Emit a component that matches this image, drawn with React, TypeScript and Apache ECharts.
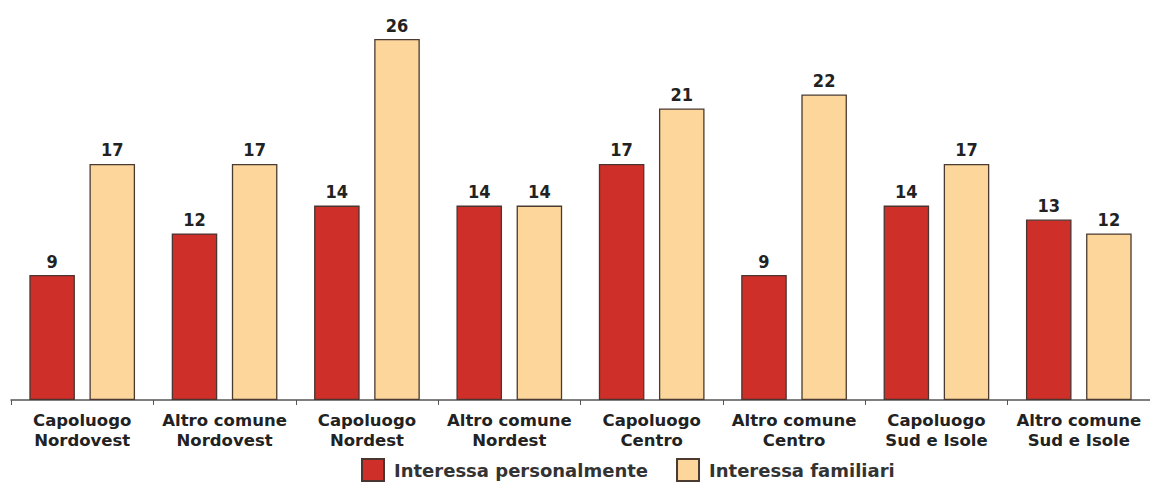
import React, { useEffect, useRef } from "react";
import * as echarts from "echarts";

const categories = [
  "Capoluogo\nNordovest",
  "Altro comune\nNordovest",
  "Capoluogo\nNordest",
  "Altro comune\nNordest",
  "Capoluogo\nCentro",
  "Altro comune\nCentro",
  "Capoluogo\nSud e Isole",
  "Altro comune\nSud e Isole",
];
const personale = [9, 12, 14, 14, 17, 9, 14, 13];
const familiari = [17, 17, 26, 14, 21, 22, 17, 12];
const seriesNames = ["Interessa personalmente", "Interessa familiari"];

const FONT = "'DejaVu Sans', sans-serif";
const FONT_C = "'DejaVu Sans Condensed', 'DejaVu Sans', sans-serif";

export default function App() {
  const ref = useRef<HTMLDivElement>(null);
  useEffect(() => {
    document.body.style.margin = "0";
    document.body.style.overflow = "hidden";
    const chart = echarts.init(ref.current!, null, { renderer: "svg" });
    const labelStyle = {
      show: true,
      position: "top" as const,
      distance: 5,
      color: "#222",
      fontFamily: FONT_C,
      fontWeight: "bold" as const,
      fontSize: 18,
    };
    chart.setOption({
      animation: false,
      grid: { left: 11, right: -8, top: 39, bottom: 88, containLabel: false },
      legend: {
        bottom: 1,
        left: 356,
        itemWidth: 22,
        itemHeight: 22,
        itemGap: 28,
        icon: "rect",
        textStyle: {
          fontFamily: FONT,
          fontWeight: "bold",
          fontSize: 18,
          color: "#333",
          padding: [0, 0, 0, 5],
        },
        data: seriesNames,
      },
      xAxis: {
        type: "category",
        data: categories,
        boundaryGap: true,
        axisLine: { lineStyle: { color: "#555", width: 1.5 } },
        axisTick: { show: true, length: 5, lineStyle: { color: "#555" } },
        axisLabel: {
          color: "#222",
          fontFamily: FONT,
          fontWeight: "bold",
          fontSize: 16.5,
          lineHeight: 20,
          margin: 10,
          interval: 0,
        },
      },
      yAxis: { type: "value", min: 0, max: 26, show: false, splitLine: { show: false } },
      series: [
        {
          name: seriesNames[0],
          type: "bar",
          data: personale,
          barWidth: "32%",
          barGap: "32%",
          itemStyle: { color: "#cf2f29", borderColor: "#4a3530", borderWidth: 1.3 },
          label: labelStyle,
        },
        {
          name: seriesNames[1],
          type: "bar",
          data: familiari,
          barWidth: "32%",
          itemStyle: { color: "#fdd69c", borderColor: "#4a3a30", borderWidth: 1.3 },
          label: labelStyle,
        },
      ],
    });
    return () => chart.dispose();
  }, []);
  return <div ref={ref} style={{ width: 1150, height: 488, overflow: "hidden" }} />;
}
